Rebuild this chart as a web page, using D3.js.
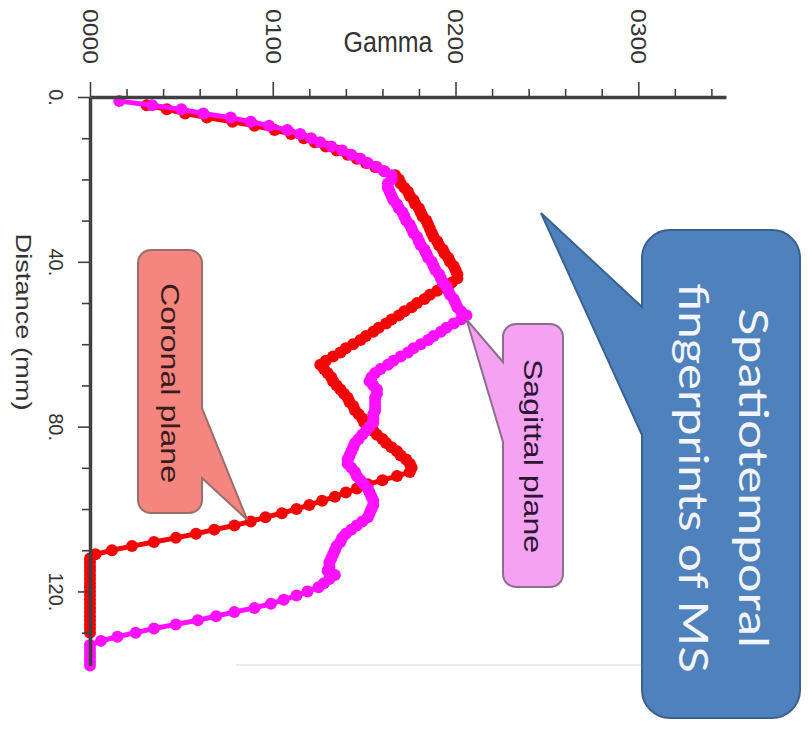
<!DOCTYPE html>
<html>
<head>
<meta charset="utf-8">
<script src="https://cdn.jsdelivr.net/npm/d3@7/dist/d3.min.js"></script>
<style>
  html, body { margin: 0; padding: 0; background: #ffffff; }
  svg { display: block; }
</style>
</head>
<body>
<div id="chart"></div>
<script>
// Sampling grid along the profile (mm)
const distanceMm = [
  0,1,2,3,4,5,6,7,8,9,10,11,12,13,14,15,16,17,18,19,
  20,21,22,23,24,25,26,27,28,29,30,31,32,33,34,35,36,37,38,39,
  40,41,42,43,44,45,46,47,48,49,50,51,52,53,54,55,56,57,58,59,
  60,61,62,63,64,65,66,67,68,69,70,71,72,73,74,75,76,77,78,79,
  80,81,82,83,84,85,86,87,88,89,90,91,92,93,94,95,96,97,98,99,
  100,101,102,103,104,105,106,107,108,109,110,111,112,113,114,115,116,117,118,119,
  120,121,122,123,124,125,126,127,128,129,130,131,132,133,134,135,136,137,138
];

// Gamma along the coronal plane (null = no sample)
const coronalGamma = [
  null,null,0.031,0.042,0.052,0.064,0.078,0.090,0.101,0.110,
  0.117,0.123,0.129,0.135,0.141,0.146,0.151,0.156,0.161,0.167,
  0.169,0.170,0.172,0.174,0.175,0.177,0.178,0.180,0.181,0.182,
  0.184,0.185,0.186,0.187,0.188,0.190,0.191,0.193,0.194,0.196,
  0.197,0.199,0.200,0.201,0.201,0.198,0.194,0.190,0.186,0.183,
  0.179,0.176,0.172,0.169,0.165,0.162,0.158,0.155,0.151,0.148,
  0.144,0.140,0.137,0.133,0.129,0.126,0.128,0.130,0.132,0.133,
  0.135,0.137,0.139,0.141,0.142,0.144,0.145,0.147,0.149,0.150,
  0.153,0.155,0.157,0.160,0.162,0.165,0.168,0.170,0.173,0.175,
  0.176,0.175,0.168,0.160,0.152,0.146,0.140,0.134,0.127,0.120,
  0.113,0.105,0.096,0.088,0.079,0.068,0.058,0.047,0.035,0.023,
  0.012,0.003,0,0,0,0,0,0,0,0,
  0,0,0,0,0,0,0,0,0,0,
  0,null,null,null,null,null,null,null,null
];

// Gamma along the sagittal plane
const sagittalGamma = [
  null,0.016,0.034,0.050,0.062,0.077,0.088,0.098,0.108,0.115,
  0.121,0.126,0.132,0.138,0.143,0.148,0.152,0.157,0.161,0.165,
  0.165,0.163,0.163,0.164,0.165,0.166,0.168,0.169,0.171,0.172,
  0.173,0.175,0.176,0.177,0.179,0.180,0.181,0.183,0.184,0.185,
  0.187,0.188,0.189,0.191,0.192,0.193,0.195,0.196,0.197,0.199,
  0.200,0.201,0.203,0.206,0.203,0.199,0.195,0.192,0.188,0.185,
  0.181,0.177,0.174,0.170,0.166,0.163,0.159,0.156,0.154,0.153,
  0.155,0.157,0.157,0.156,0.156,0.156,0.156,0.155,0.155,0.155,
  0.153,0.151,0.149,0.147,0.145,0.144,0.143,0.142,0.141,0.141,
  0.143,0.145,0.146,0.148,0.150,0.152,0.153,0.154,0.155,0.155,
  0.154,0.153,0.152,0.149,0.146,0.143,0.140,0.138,0.137,0.135,
  0.134,0.133,0.132,0.131,0.131,0.130,0.134,0.131,0.128,0.125,
  0.119,0.113,0.106,0.099,0.090,0.079,0.069,0.059,0.047,0.035,
  0.025,0.015,0.006,0,0,0,0,0,0
];

// Axis ticks and labels
const gammaMajorTicks = [0, 0.1, 0.2, 0.3];
const gammaTickLabels = ["0000", "0100", "0200", "0300"];
const gammaMinorTicks = [0.02,0.04,0.06,0.08,0.12,0.14,0.16,0.18,0.22,0.24,0.26,0.28,0.32,0.34];
const distanceMajorTicks = [0, 40, 80, 120];
const distanceTickLabels = ["0.", "40.", "80.", "120."];
const distanceMinorTicks = [10,20,30,50,60,70,90,100,110,130];

const callouts = [
  { text: "Coronal plane" },
  { text: "Sagittal plane" },
  { lines: ["Spatiotemporal", "fingerprints of MS"] }
];

const W = 810, H = 731;
const svg = d3.select("#chart").append("svg")
  .attr("width", W).attr("height", H)
  .attr("viewBox", `0 0 ${W} ${H}`);

svg.append("rect").attr("width", W).attr("height", H).attr("fill", "#ffffff");

// Gamma runs across, distance runs down the page
const x = d3.scaleLinear().domain([0, 0.348]).range([90, 726]);
const y = d3.scaleLinear().domain([0, 138]).range([97, 665.6]);

const axisColor = "#404040";
const labelFont = "'Liberation Sans', Arial, sans-serif";

// faint frame edge of the plot panel
svg.append("line")
  .attr("x1", 236).attr("x2", 642).attr("y1", 665).attr("y2", 665)
  .attr("stroke", "#ececec").attr("stroke-width", 2);

// ---- series ----
const series = [
  { name: "Coronal plane", values: coronalGamma, color: "#f00808" },
  { name: "Sagittal plane", values: sagittalGamma, color: "#ff10ff" }
];

const plot = svg.append("g");
series.forEach(s => {
  const pts = distanceMm.map((d, i) => ({ d, g: s.values[i] })).filter(p => p.g !== null);
  const line = d3.line().x(p => x(p.g)).y(p => y(p.d));
  plot.append("path")
    .datum(pts)
    .attr("d", line)
    .attr("fill", "none")
    .attr("stroke", s.color)
    .attr("stroke-width", 5)
    .attr("stroke-linejoin", "round");
  plot.append("g").selectAll("circle")
    .data(pts)
    .join("circle")
    .attr("cx", p => x(p.g))
    .attr("cy", p => y(p.d))
    .attr("r", 6)
    .attr("fill", s.color);
});

// ---- axes ----
function styleAxis(g) {
  g.select(".domain").attr("stroke", axisColor).attr("stroke-width", 3.5);
  g.selectAll(".tick line").attr("stroke", axisColor).attr("stroke-width", 1.6);
}

const gammaAxis = svg.append("g").attr("transform", `translate(0,${y(0)})`)
  .call(d3.axisTop(x).tickValues(gammaMajorTicks).tickSize(15).tickSizeOuter(0)
    .tickFormat((d, i) => gammaTickLabels[i]));
styleAxis(gammaAxis);
gammaAxis.selectAll(".tick text")
  .attr("x", 0).attr("y", 0).attr("dy", "0.35em")
  .attr("text-anchor", "end")
  .attr("transform", "translate(0,-33) rotate(90)")
  .attr("font-family", labelFont).attr("font-size", 22).attr("fill", "#333")
  .attr("textLength", 55).attr("lengthAdjust", "spacingAndGlyphs");

svg.append("g").attr("transform", `translate(0,${y(0)})`)
  .call(d3.axisTop(x).tickValues(gammaMinorTicks).tickSize(8).tickSizeOuter(0).tickFormat(""))
  .call(g => g.select(".domain").remove())
  .selectAll(".tick line").attr("stroke", axisColor).attr("stroke-width", 1.6);

const distAxis = svg.append("g").attr("transform", `translate(${x(0)},0)`)
  .call(d3.axisLeft(y).tickValues(distanceMajorTicks).tickSize(12).tickSizeOuter(0)
    .tickFormat((d, i) => distanceTickLabels[i]));
styleAxis(distAxis);
distAxis.selectAll(".tick text")
  .attr("x", 0).attr("y", 0).attr("dy", "0.35em")
  .attr("text-anchor", "middle")
  .attr("transform", "translate(-34,0) rotate(90)")
  .attr("font-family", labelFont).attr("font-size", 20).attr("fill", "#333");

svg.append("g").attr("transform", `translate(${x(0)},0)`)
  .call(d3.axisLeft(y).tickValues(distanceMinorTicks).tickSize(8).tickSizeOuter(0).tickFormat(""))
  .call(g => g.select(".domain").remove())
  .selectAll(".tick line").attr("stroke", axisColor).attr("stroke-width", 1.6);

// axis titles
svg.append("text")
  .attr("transform", "translate(388,52) scale(1,1.15)")
  .attr("text-anchor", "middle")
  .attr("font-family", labelFont).attr("font-size", 25).attr("fill", "#333")
  .text("Gamma");

svg.append("text")
  .attr("transform", "translate(24,322) rotate(90)")
  .attr("text-anchor", "middle").attr("dy", "0.35em")
  .attr("font-family", labelFont).attr("font-size", 22).attr("fill", "#333")
  .attr("textLength", 177).attr("lengthAdjust", "spacingAndGlyphs")
  .text("Distance (mm)");

// ---- callouts ----
// rounded box with a pointer wedge on its left or right side
function calloutPath(x0, y0, x1, y1, r, side, a, b, tip) {
  const p = d3.path();
  p.moveTo(x0 + r, y0);
  p.lineTo(x1 - r, y0);
  p.arcTo(x1, y0, x1, y0 + r, r);
  if (side === "right") {
    p.lineTo(x1, a); p.lineTo(tip[0], tip[1]); p.lineTo(x1, b);
  }
  p.lineTo(x1, y1 - r);
  p.arcTo(x1, y1, x1 - r, y1, r);
  p.lineTo(x0 + r, y1);
  p.arcTo(x0, y1, x0, y1 - r, r);
  if (side === "left") {
    p.lineTo(x0, b); p.lineTo(tip[0], tip[1]); p.lineTo(x0, a);
  }
  p.lineTo(x0, y0 + r);
  p.arcTo(x0, y0, x0 + r, y0, r);
  p.closePath();
  return p.toString();
}

const notes = svg.append("g");

// Coronal plane callout, pointing at the coronal profile
notes.append("path")
  .attr("d", calloutPath(138, 250, 202, 513, 13, "right", 408, 478, [x(0.086), y(102.6)]))
  .attr("fill", "#f4857f").attr("stroke", "#9a6e6a").attr("stroke-width", 2);
notes.append("text")
  .attr("transform", "translate(170,383) rotate(90)")
  .attr("text-anchor", "middle").attr("dy", "0.35em")
  .attr("font-family", labelFont).attr("font-size", 26).attr("fill", "#3a1c1c")
  .attr("textLength", 200).attr("lengthAdjust", "spacingAndGlyphs")
  .text(callouts[0].text);

// Sagittal plane callout, pointing at the sagittal peak
notes.append("path")
  .attr("d", calloutPath(503, 324, 563, 587, 13, "left", 362, 442, [x(0.206), y(54)]))
  .attr("fill", "#f5a2f2").attr("stroke", "#8d6f8d").attr("stroke-width", 2);
notes.append("text")
  .attr("transform", "translate(533,456) rotate(90)")
  .attr("text-anchor", "middle").attr("dy", "0.35em")
  .attr("font-family", labelFont).attr("font-size", 25).attr("fill", "#2a1630")
  .attr("textLength", 194).attr("lengthAdjust", "spacingAndGlyphs")
  .text(callouts[1].text);

// Headline callout
notes.append("path")
  .attr("d", calloutPath(642, 230, 800, 718, 28, "left", 307, 435, [541, 213]))
  .attr("fill", "#4f81bd").attr("stroke", "#3a6190").attr("stroke-width", 2);
const headX = [752, 692];
const headLen = [340, 390];
callouts[2].lines.forEach((t, i) => {
  notes.append("text")
    .attr("transform", `translate(${headX[i]},478) rotate(90)`)
    .attr("text-anchor", "middle").attr("dy", "0.32em")
    .attr("font-family", "Lato, 'Open Sans', sans-serif").attr("font-size", 41)
    .attr("fill", "#f2f5fb")
    .attr("textLength", headLen[i]).attr("lengthAdjust", "spacingAndGlyphs")
    .text(t);
});
</script>
</body>
</html>
